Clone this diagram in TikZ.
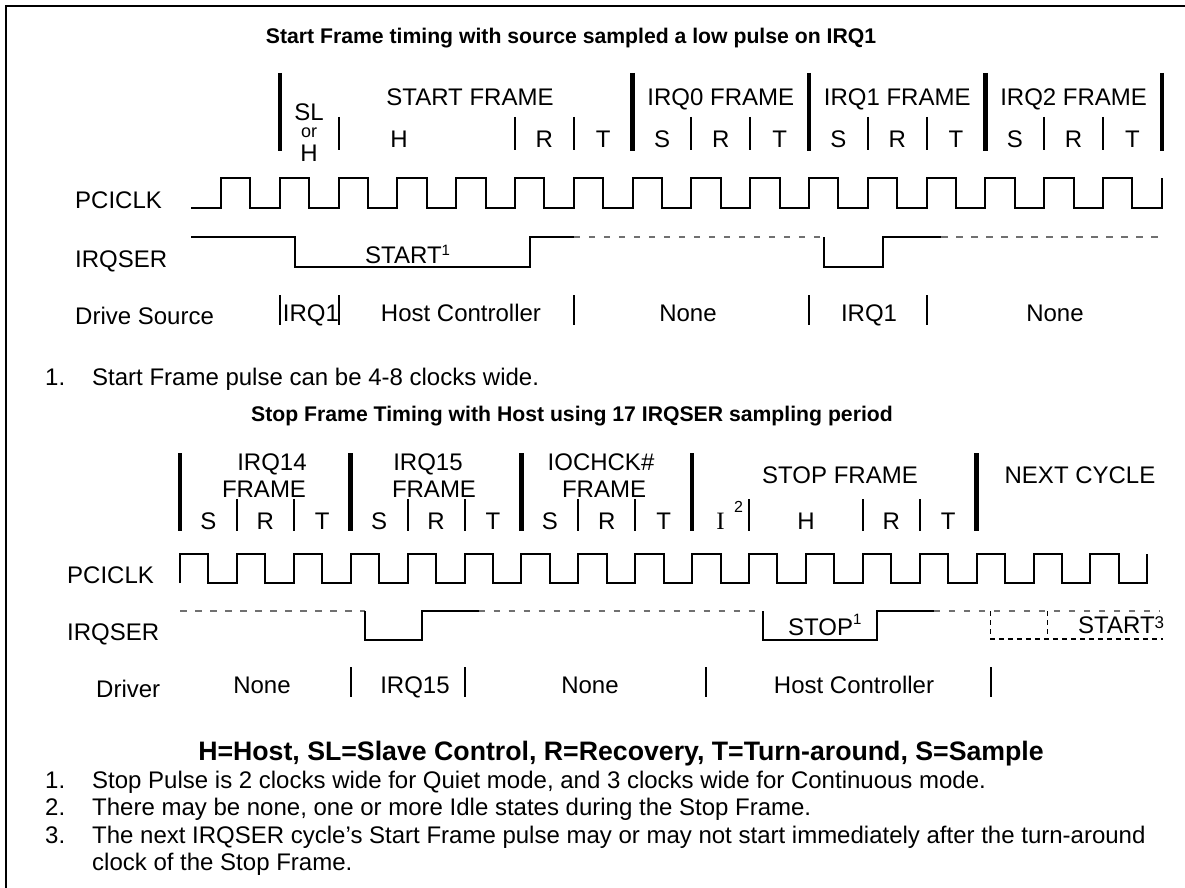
\documentclass[tikz,border=0pt]{standalone}
\usepackage{fontspec}
\setmainfont{Liberation Sans}
\newfontfamily\serifI{Liberation Serif}
\usepackage{xcolor}
\usepackage{tikz}
\usetikzlibrary{positioning}

\definecolor{hizgray}{HTML}{707070}
\newcommand{\supmark}[2]{\raisebox{#1pt}{\fontsize{15}{15}\selectfont #2}}

\tikzset{
  lbl/.style={inner sep=0pt, anchor=base, font=\fontsize{24}{28}\selectfont},
  lblw/.style={lbl, anchor=base west},
  ttl/.style={inner sep=0pt, anchor=base, font=\fontsize{21.2}{25}\selectfont\bfseries},
  thickbar/.style={line width=4.5pt},
  thinbar/.style={line width=2pt},
  clk/.style={line width=2pt},
  sig/.style={line width=2pt},
  hiz/.style={hizgray, line width=1.3pt, dash pattern=on 6.5pt off 8.5pt},
  nextstart/.style={line width=1.3pt, dash pattern=on 5pt off 4pt},
}

\begin{document}
\begin{tikzpicture}[x=1pt,y=-1pt]
  \useasboundingbox (0,0) rectangle (1185,888);
  \draw[line width=2pt] (6,888) -- (6,6) -- (1185,6);

  % start frame timing
  \node[ttl] (title1) at (571,44) {Start Frame timing with source sampled a low pulse on IRQ1};
  \foreach \k in {1,7,10,13,16} \draw[thickbar] ({221+\k*58.8},73) -- ++(0,78);
  \foreach \k in {2,5,6,8,9,11,12,14,15} \draw[thinbar] ({221+\k*58.8},117) -- ++(0,33);
  \node[lbl] (sl) at (309,120.5) {SL};
  \node[lbl, font=\fontsize{18}{20}\selectfont] (or) at (309,137.5) {or};
  \node[lbl] (slh) at (309,161.5) {H};
  \node[lbl] (startfr) at (470,106) {START FRAME};
  \node[lbl] (h1) at (399,147.5) {H};
  \node[lbl] (r1) at (544.4,147.5) {R};
  \node[lbl] (t1) at (603.2,147.5) {T};
  \foreach \n/\k in {0/7,1/10,2/13} {
    \node[lbl] (irq\n) at ({221+(\k+1.5)*58.8},106) {IRQ\n\ FRAME};
    \foreach \l/\j in {S/0.5,R/1.5,T/2.5}
      \node[lbl] (\l\n) at ({221+(\k+\j)*58.8},147.5) {\l};
  }

  \node[lblw] (clkA) at (75,208) {PCICLK};
  \draw[clk] (191,208) -- (221,208) foreach \k in {0,...,15} { -- ++(0,-30) -- ++(29.4,0) -- ++(0,30) -- ++(29.4,0) } -- ++(0,-30);

  \node[lblw] (irqserA) at (75,267) {IRQSER};
  \draw[sig] (191,237) -- (294.5,237) -- (294.5,267) -- (529.7,267) -- (529.7,237) -- (573.8,237);
  \draw[hiz] (573.8,237) -- (823.7,237);
  \draw[sig] (823.7,237) -- (823.7,267) -- (882.5,267) -- (882.5,237) -- (941.3,237);
  \draw[hiz] (941.3,237) -- (1162,237);
  \node[lblw] (startp) at (365,263) {START\supmark{8}{1}};

  \node[lblw] (drvA) at (75,324) {Drive Source};
  \foreach \k in {1,2,6,10,12} \draw[thinbar] ({221+\k*58.8},295) -- ++(0,30);
  \node[lbl] (dA1) at (311,321) {IRQ1};
  \node[lbl] (dA2) at (461,321) {Host Controller};
  \node[lbl] (dA3) at (688,321) {None};
  \node[lbl] (dA4) at (869,321) {IRQ1};
  \node[lbl] (dA5) at (1055,321) {None};

  \node[lblw] (noteA) at (45,385) {\makebox[47pt][l]{1.}Start Frame pulse can be 4-8 clocks wide.};

  % stop frame timing
  \node[ttl] (title2) at (572,421) {Stop Frame Timing with Host using 17 IRQSER sampling period};
  \foreach \k in {0,3,6,9,14} \draw[thickbar] ({180+\k*56.9},453) -- ++(0,78);
  \foreach \k in {1,2,4,5,7,8,10,12,13} \draw[thinbar] ({180+\k*56.9},499) -- ++(0,32);
  \node[lbl] (irq14) at (272,470) {IRQ14};
  \node[lbl] (fr14) at (264,497.5) {FRAME};
  \node[lbl] (irq15) at (428,470) {IRQ15};
  \node[lbl] (fr15) at (434,497.5) {FRAME};
  \node[lbl] (iochk) at (601,470) {IOCHCK\#};
  \node[lbl] (frio) at (604,497.5) {FRAME};
  \foreach \f/\k in {a/0,b/3,c/6}
    \foreach \l/\j in {S/0.5,R/1.5,T/2.5}
      \node[lbl] (\l\f) at ({180+(\k+\j)*56.9},529) {\l};
  \node[lbl] (stopfr) at (840,483) {STOP FRAME};
  \node[lbl] (nextcy) at (1080,483) {NEXT CYCLE};
  \node[lbl, font=\fontsize{25}{28}\serifI] (idle) at (720.5,529) {I};
  \node[lbl, font=\fontsize{16}{16}\selectfont] (idlesup) at (738.5,512) {2};
  \node[lbl] (h2) at (806,529) {H};
  \node[lbl] (r2) at (891.3,529) {R};
  \node[lbl] (t2) at (948.2,529) {T};

  \node[lblw] (clkB) at (67,583) {PCICLK};
  \draw[clk] (180,583) foreach \k in {0,...,16} { -- ++(0,-29) -- ++(28.45,0) -- ++(0,29) -- ++(28.45,0) } -- ++(0,-29);

  \node[lblw] (irqserB) at (67,640) {IRQSER};
  \draw[hiz] (180,611) -- (364.9,611);
  \draw[sig] (364.9,611) -- (364.9,640) -- (421.8,640) -- (421.8,611) -- (478.7,611);
  \draw[hiz] (478.7,611) -- (763.2,611);
  \draw[sig] (763.2,611) -- (763.2,640) -- (877,640) -- (877,611) -- (933.9,611);
  \draw[hiz] (933.9,611) -- (1160,611);
  \draw[nextstart] (990.8,611) -- (990.8,639) -- (1163,639);
  \draw[nextstart] (1047.7,611) -- (1047.7,639);
  \node[lblw] (stopp) at (788,635) {STOP\supmark{11}{1}};
  \node[lblw] (startn) at (1078,633) {START\raisebox{5pt}{\fontsize{17}{17}\selectfont 3}};

  \node[lblw] (drvB) at (96,697) {Driver};
  \foreach \x in {350.7,464.5,706.3,990.8} \draw[thinbar] (\x,667) -- ++(0,30);
  \node[lbl] (dB1) at (262,693) {None};
  \node[lbl] (dB2) at (415,693) {IRQ15};
  \node[lbl] (dB3) at (590,693) {None};
  \node[lbl] (dB4) at (854,693) {Host Controller};

  \node[lbl, font=\fontsize{26.7}{30}\selectfont\bfseries] (legend) at (621,760) {H=Host, SL=Slave Control, R=Recovery, T=Turn-around, S=Sample};
  \node[lblw] (noteB1) at (45,788) {\makebox[47pt][l]{1.}Stop Pulse is 2 clocks wide for Quiet mode, and 3 clocks wide for Continuous mode.};
  \node[lblw] (noteB2) at (45,815.5) {\makebox[47pt][l]{2.}There may be none, one or more Idle states during the Stop Frame.};
  \node[lblw] (noteB3) at (45,843) {\makebox[47pt][l]{3.}The next IRQSER cycle’s Start Frame pulse may or may not start immediately after the turn-around};
  \node[lblw] (noteB4) at (92,870.5) {clock of the Stop Frame.};
\end{tikzpicture}
\end{document}
